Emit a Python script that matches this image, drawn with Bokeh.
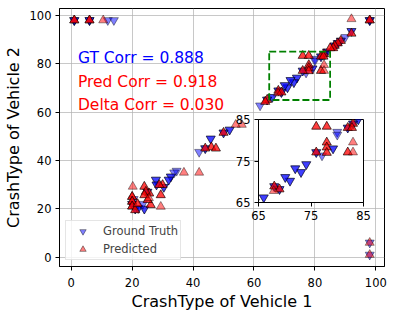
from bokeh.plotting import figure
from bokeh.models import Range1d, FixedTicker, Label, Legend, LegendItem
from bokeh.embed import file_html
from bokeh.resources import INLINE

# ---------------- data ----------------
gt_v1 = [1, 1, 1, 6, 6, 6, 12, 14,
         98, 98,
         98, 98, 98, 92, 92, 90, 88.5, 88.5, 87.5, 87.5, 86.5, 86.5,
         84, 84, 83, 83, 82, 82, 80, 80, 79.2, 79.2, 77.1, 76, 76,
         74.1, 74.1, 73.1, 73.1, 72, 72, 71, 71, 70.1, 70.1,
         68, 68, 69, 69, 66, 66, 64.3, 64.3, 62,
         52, 52, 50, 50, 45.8, 45.8, 44, 44, 42,
         34.6, 33.8, 32.7, 32.7, 32, 32, 30.4, 30.4, 27.8, 27.8, 28, 28,
         21, 21, 22, 22, 24, 24, 20, 20, 23.5, 25, 25, 20.5]
gt_v2 = [98, 98, 98, 98, 98, 98, 98, 98,
         6, 1,
         98, 98, 98, 93.5, 93.5, 91, 89.5, 89.5, 88.5, 88.5, 87.5, 87.5,
         85, 85, 84, 84, 83, 83, 82, 81.3, 78, 78, 76.3, 77.1, 77.1,
         74.2, 74.2, 72.3, 72.3, 73.2, 73.2, 70.2, 70.2, 71.1, 71.1,
         68.9, 68.9, 68.2, 68.2, 66.2, 66.2, 65.1, 65.1, 62.7,
         52.7, 52.7, 51.5, 51.5, 49, 49, 45, 45, 43.5,
         35.7, 35, 33.3, 33.3, 32, 32, 29, 29, 32, 32, 30, 30,
         20, 20, 20.3, 20.3, 20, 20, 22, 22, 22, 27, 27, 24]

pred_v1 = [1, 1, 1, 6, 6, 6, 10.5,
           98, 98,
           98, 98, 98, 92, 92, 92, 88.5, 88.5, 87.5, 87.5, 86.5, 86.5, 86, 86, 85, 85,
           83, 83, 82, 82, 82.8, 82.8, 82, 82, 83, 83,
           76, 76, 78, 78, 78, 78, 78, 78, 78, 78, 76, 76,
           68, 68, 69, 69, 67.9, 64.3, 64.3, 63.7, 63.7,
           56, 54, 50, 50, 46, 46, 47.5, 47.5, 44, 44, 42, 37,
           30, 30, 28.9, 28.9, 29.4, 29.4, 29.4, 26.1, 26.1,
           25.6, 25.6, 25.1, 25.1, 24, 24, 24.5, 24.5, 24, 24, 25.5,
           20.2, 20, 20, 20, 20, 20, 20, 20, 20, 20, 21, 21, 21.8, 21.8]
pred_v2 = [98, 98, 98, 98, 98, 98, 98,
           6, 1,
           98, 98, 98, 98.5, 92.5, 92.5, 89.5, 89.5, 88.5, 88.5, 87.5, 87.5, 86.5, 86.5, 86.5, 86.5,
           84, 84, 83, 83, 83, 83, 77.1, 77.1, 79.5, 77.1,
           83.3, 83.3, 83.3, 83.3, 79.5, 79.5, 78.3, 78.3, 77, 77, 77.1, 77.1,
           68.9, 68.9, 68.2, 68.2, 67.8, 65.1, 65.1, 64.3, 64.3,
           54.8, 54.8, 51.5, 51.5, 45.5, 45.5, 45, 45, 45, 45, 35, 35,
           29.9, 29.9, 29.9, 29.9, 25.7, 25.7, 20.9, 21.6, 21.6,
           26.4, 26.4, 23.7, 23.7, 29.2, 29.2, 27.1, 27.1, 25.7, 25.7, 24.5,
           29.2, 25, 25, 25, 23, 23, 23, 21, 21, 21, 19.5, 19.5, 22, 22]

gt_corr = 0.888
pred_corr = 0.918
delta_corr = 0.030

main_ticks = [0, 20, 40, 60, 80, 100]
zoom_lo, zoom_hi = 65, 85
inset_ticks = [65, 75, 85]

FONT = "DejaVu Sans"
TICK_FS = "11.5px"
LABEL_FS = "16px"


def style_axes(fig, ticks):
    for ax in (fig.xaxis, fig.yaxis):
        ax.ticker = FixedTicker(ticks=ticks)
        ax.major_label_text_font = FONT
        ax.major_label_text_font_size = TICK_FS
        ax.major_label_text_color = "black"
        ax.axis_line_color = "black"
        ax.major_tick_line_color = "black"
        ax.major_tick_out = 4
        ax.major_tick_in = 0
        ax.minor_tick_line_color = None
        ax.major_label_standoff = 4
        ax.axis_label_text_font = FONT
        ax.axis_label_text_font_size = LABEL_FS
        ax.axis_label_text_font_style = "normal"
        ax.axis_label_text_color = "black"


def add_points(fig):
    r_gt = fig.scatter(gt_v1, gt_v2, marker="inverted_triangle", size=9,
                       fill_color="blue", fill_alpha=0.5,
                       line_color="black", line_alpha=0.5, line_width=0.8)
    r_pr = fig.scatter(pred_v1, pred_v2, marker="triangle", size=9,
                       fill_color="red", fill_alpha=0.5,
                       line_color="black", line_alpha=0.5, line_width=0.8)
    return r_gt, r_pr


# ---------------- main figure ----------------
p = figure(frame_width=325, frame_height=258,
           x_range=Range1d(-3.85, 102.85), y_range=Range1d(-3.85, 102.85),
           output_backend="svg", toolbar_location=None,
           min_border_left=59, min_border_right=11,
           min_border_top=8, min_border_bottom=49,
           background_fill_color="white", border_fill_color="white")
p.outline_line_color = "black"
p.outline_line_width = 1
p.outline_line_alpha = 1
style_axes(p, main_ticks)
p.xaxis.axis_label = "CrashType of Vehicle 1"
p.yaxis.axis_label = "CrashType of Vehicle 2"
p.xaxis.major_label_standoff = 7
p.xaxis.axis_label_standoff = 2
p.yaxis.axis_label_standoff = 4
p.grid.grid_line_color = "#b0b0b0"
p.grid.grid_line_alpha = 0.7
p.grid.grid_line_width = 1

r_gt, r_pr = add_points(p)

# zoom region marker
p.quad(left=[zoom_lo], right=[zoom_hi], bottom=[zoom_lo], top=[zoom_hi],
       fill_alpha=0, line_color="green", line_dash="7 3", line_width=1.8)

# correlation texts
for yv, txt, col in [(82.2, f"GT Corr = {gt_corr:.3f}", "blue"),
                     (72.6, f"Pred Corr = {pred_corr:.3f}", "red"),
                     (63.1, f"Delta Corr = {delta_corr:.3f}", "red")]:
    p.add_layout(Label(x=2.2, y=yv, text=txt, text_color=col,
                       text_font=FONT, text_font_size="15.5px",
                       text_baseline="middle", text_align="left"))

legend = Legend(items=[LegendItem(label="Ground Truth", renderers=[r_gt]),
                       LegendItem(label="Predicted", renderers=[r_pr])],
                location="bottom_left", margin=6, padding=2, spacing=2,
                glyph_width=29, glyph_height=16, label_height=16,
                label_standoff=6,
                label_text_font=FONT, label_text_font_size=TICK_FS,
                border_line_color="#cccccc", border_line_width=1,
                background_fill_color="white", background_fill_alpha=0.8)
p.add_layout(legend)

# ---------------- inset figure (separate root, floated over the main plot) ----------------
inset = figure(frame_width=105, frame_height=83,
               x_range=Range1d(zoom_lo, zoom_hi), y_range=Range1d(zoom_lo, zoom_hi),
               output_backend="svg", toolbar_location=None,
               min_border_left=30, min_border_right=12,
               min_border_top=10, min_border_bottom=26,
               background_fill_color="white", border_fill_alpha=0,
               styles={"position": "absolute", "left": "228px", "top": "109px",
                       "z-index": "2"})
inset.outline_line_color = "black"
inset.outline_line_width = 1
style_axes(inset, inset_ticks)
inset.grid.grid_line_color = None
add_points(inset)

open("out.html", "w").write(file_html([p, inset], INLINE))
